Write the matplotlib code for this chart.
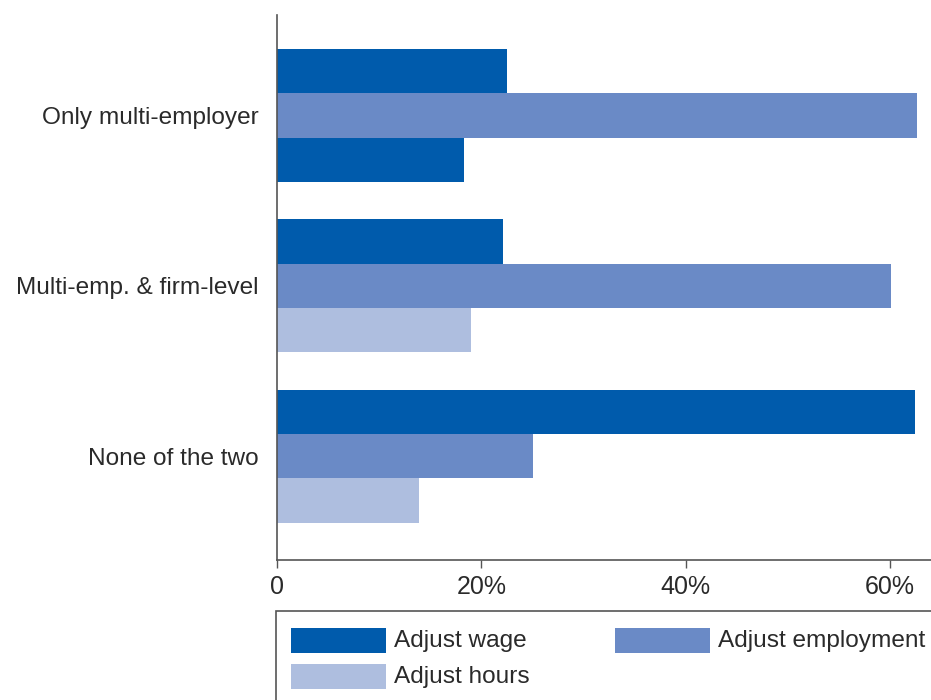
import matplotlib
matplotlib.use("Agg")
import matplotlib.pyplot as plt
from matplotlib.patches import Rectangle
from matplotlib import font_manager as fm
import numpy as np

names = {f.name for f in fm.fontManager.ttflist}
FONT = "Liberation Sans Narrow" if "Liberation Sans Narrow" in names else "Liberation Sans"
plt.rcParams['font.family'] = [FONT, 'DejaVu Sans']

categories = ["Only multi-employer", "Multi-emp. & firm-level", "None of the two"]
series = ["Adjust wage", "Adjust employment", "Adjust hours"]
wage = [22.5, 22.1, 62.4]
employment = [62.6, 60.1, 25.1]
hours = [18.3, 19.0, 13.9]
xticks = [0, 20, 40, 60]
xticklabels = ["0", "20%", "40%", "60%"]

colors = ["#005BAC", "#6A8AC6", "#AEBEDF"]
# the first group's hours bar is drawn in the dark colour in the original
hours_colors = ["#005BAC", "#AEBEDF", "#AEBEDF"]
TXT = "#2A2A2A"
FS = 17.6

W, H = 931, 700
fig = plt.figure(figsize=(W / 100, H / 100), dpi=100)
ax = fig.add_axes([277 / W, 1 - 560 / H, (931 - 277) / W, (560 - 15) / H])

y = np.arange(len(categories))
bh = 0.26
ax.barh(y - bh, wage, height=bh, color=colors[0], linewidth=0)
ax.barh(y, employment, height=bh, color=colors[1], linewidth=0)
ax.barh(y + bh, hours, height=bh, color=hours_colors, linewidth=0)

ax.set_ylim(2.61, -0.59)
ax.set_xlim(0, 64)
ax.set_yticks(y)
ax.set_yticklabels(categories, fontsize=FS, color=TXT)
ax.tick_params(axis='y', length=0, pad=13)
ax.set_xticks(xticks)
ax.set_xticklabels(xticklabels, fontsize=18, color=TXT)
ax.tick_params(axis='x', length=6, width=1, color="#555555", pad=5)
for s in ["top", "right"]:
    ax.spines[s].set_visible(False)
for s in ["left", "bottom"]:
    ax.spines[s].set_color("#555555")
    ax.spines[s].set_linewidth(1.2)

# legend box
fig.patches.append(Rectangle((276 / W, -0.05), 1.0, 1 - 611 / H + 0.05,
                             transform=fig.transFigure, fill=False,
                             edgecolor="#555555", linewidth=1.2, clip_on=False))
entries = [(0, 291, 628), (1, 615, 628), (2, 291, 664)]
for i, x0, y0 in entries:
    fig.patches.append(Rectangle((x0 / W, 1 - (y0 + 25) / H), 95 / W, 25 / H,
                                 transform=fig.transFigure, facecolor=colors[i],
                                 edgecolor="none"))
    fig.text((x0 + 103) / W, 1 - (y0 + 12.5) / H, series[i], fontsize=FS,
             color=TXT, va="center", ha="left")

fig.savefig("out.png", dpi=100)
